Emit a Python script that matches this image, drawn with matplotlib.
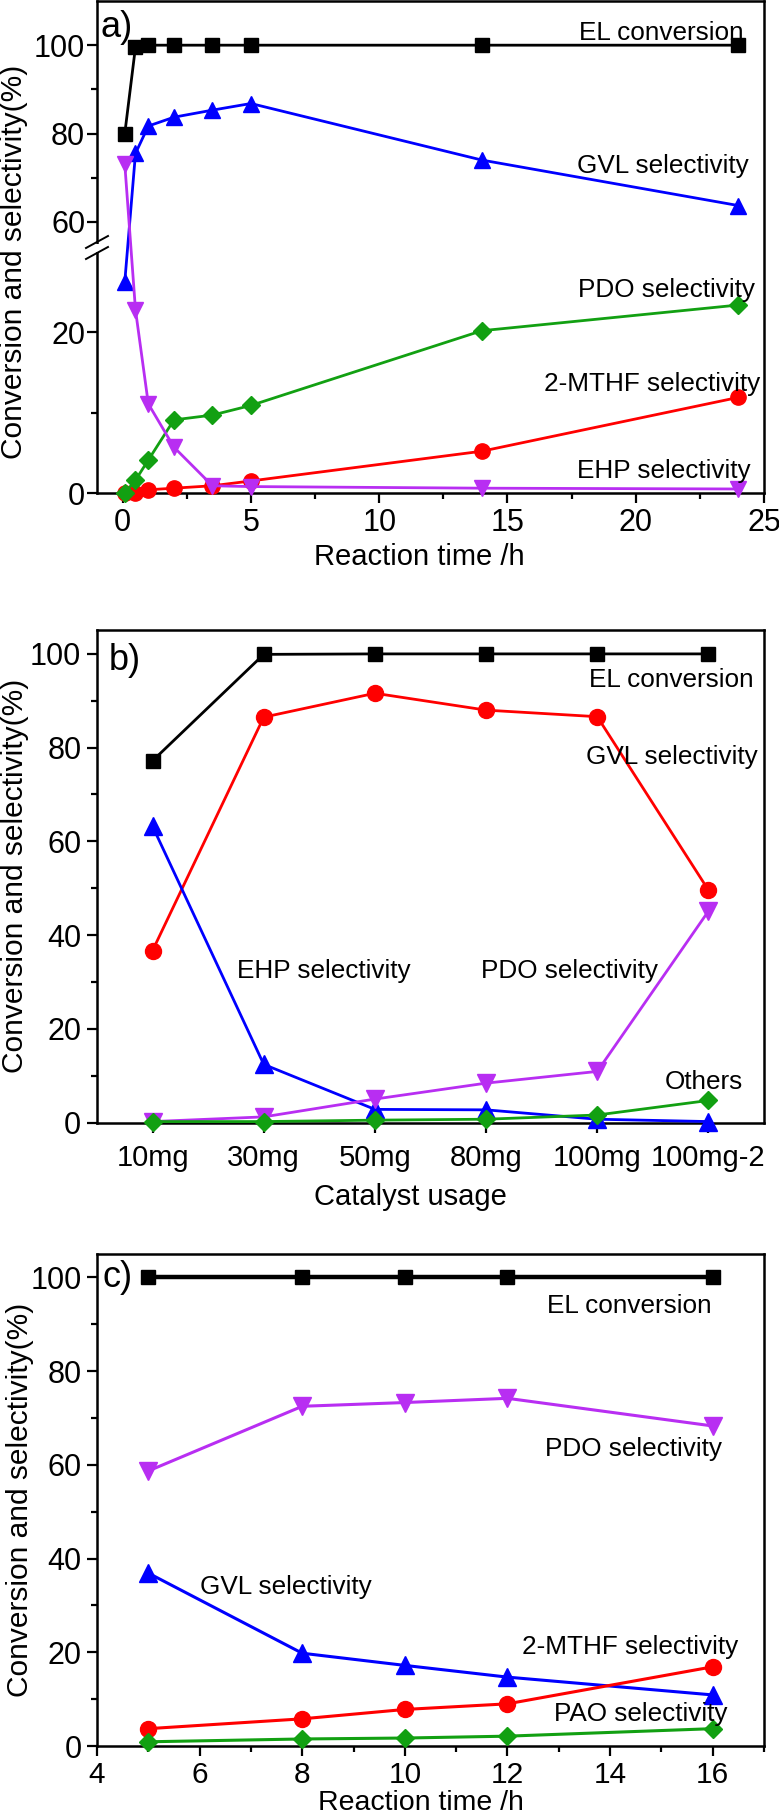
import numpy as np
import matplotlib
matplotlib.use("Agg")
import matplotlib.pyplot as plt
from matplotlib.lines import Line2D
from matplotlib.patches import Rectangle

plt.rcParams['font.family'] = ['Liberation Sans', 'DejaVu Sans']

# ---------------- data ----------------
# panel a: reaction time (h)
time_a = [0.083, 0.5, 1, 2, 3.5, 5, 14, 24]
el_a = [80.0, 99.6, 100, 100, 100, 100, 100, 100]
gvl_a = [26.3, 75.5, 81.7, 83.7, 85.3, 86.8, 74.0, 63.7]
pdo_a = [0.0, 1.6, 4.1, 9.1, 9.7, 10.9, 20.2, 23.4]
mthf_a = [0.0, 0.0, 0.4, 0.6, 0.9, 1.5, 5.2, 11.9]
ehp_a = [73.1, 22.8, 11.1, 5.7, 0.9, 0.8, 0.6, 0.5]

# panel b: catalyst usage
cats_b = ['10mg', '30mg', '50mg', '80mg', '100mg', '100mg-2']
el_b = [77.2, 99.9, 100, 100, 100, 100]
gvl_b = [36.7, 86.5, 91.6, 88.0, 86.6, 49.6]
ehp_b = [63.2, 12.4, 2.8, 2.7, 0.7, 0.2]
pdo_b = [0.2, 1.2, 5.0, 8.4, 10.9, 45.1]
oth_b = [0.2, 0.2, 0.5, 0.7, 1.6, 4.7]

# panel c: reaction time (h)
time_c = [5, 8, 10, 12, 16]
el_c = [100, 100, 100, 100, 100]
pdo_c = [58.7, 72.5, 73.3, 74.2, 68.3]
gvl_c = [36.9, 19.8, 17.2, 14.7, 10.9]
mthf_c = [3.7, 5.8, 7.8, 9.0, 16.9]
pao_c = [0.9, 1.5, 1.7, 2.1, 3.7]

# ---------------- style ----------------
BLACK = '#000000'
RED = '#FF0000'
BLUE = '#0000FF'
GREEN = '#12A012'
PURPLE = '#B82EF2'

W, H = 779, 1817
fig = plt.figure(figsize=(W / 100, H / 100), dpi=100)


def rect(left, right, top, bottom):
    return [left / W, 1 - bottom / H, (right - left) / W, (bottom - top) / H]


def fx(px):
    return px / W


def fy(py):
    return 1 - py / H


def ann(px, py, s, ha='left', size=18.8):
    fig.text(fx(px), fy(py), s, ha=ha, va='baseline', fontsize=size)


def series(ax, x, y, color, marker, ms, lw=2.0):
    ax.plot(x, y, color=color, marker=marker, ms=ms, lw=lw, mec=color,
            mfc=color, clip_on=False, zorder=3)


def style(ax, xpad, ypad):
    for sp in ax.spines.values():
        sp.set_linewidth(1.8)
    ax.tick_params(axis='both', which='both', direction='out', top=False,
                   right=False, width=1.6, labelsize=22)
    ax.tick_params(axis='both', which='major', length=7)
    ax.tick_params(axis='both', which='minor', length=4)
    ax.tick_params(axis='x', pad=xpad)
    ax.tick_params(axis='y', pad=ypad)


# ---------------- panel a (broken y axis) ----------------
axA = fig.add_axes(rect(97, 764, 1, 493))
bp_v = np.array([0.0, 30.0, 55.0, 110.0])
bp_p = np.array([0.0, 241.0, 249.0, 492.0])


def fwd(v):
    v = np.asarray(v, dtype=float)
    out = np.interp(v, bp_v, bp_p)
    out = np.where(v < 0, v * (241.0 / 30.0), out)
    out = np.where(v > 110, 492.0 + (v - 110) * (243.0 / 55.0), out)
    return out


def inv(p):
    p = np.asarray(p, dtype=float)
    out = np.interp(p, bp_p, bp_v)
    out = np.where(p < 0, p / (241.0 / 30.0), out)
    out = np.where(p > 492, 110 + (p - 492.0) / (243.0 / 55.0), out)
    return out


axA.set_yscale('function', functions=(fwd, inv))
axA.set_ylim(0, 110)
axA.set_xlim(-1, 25)
axA.set_yticks([0, 20, 60, 80, 100])
axA.set_yticks([10, 70, 90], minor=True)
axA.set_xticks([0, 5, 10, 15, 20, 25])
axA.set_xticks([2.5, 7.5, 12.5, 17.5, 22.5], minor=True)
style(axA, 4, 1.5)

series(axA, time_a, mthf_a, RED, 'o', 11)
series(axA, time_a, el_a, BLACK, 's', 10)
series(axA, time_a, gvl_a, BLUE, '^', 12)
series(axA, time_a, pdo_a, GREEN, 'D', 9)
series(axA, time_a, ehp_a, PURPLE, 'v', 12)

axA.set_xlabel('Reaction time /h', fontsize=21)
axA.xaxis.label.set_va('baseline')
axA.xaxis.set_label_coords((419 - 97) / 667, (493 - 565) / 492)
axA.set_ylabel('Conversion and selectivity(%)', fontsize=21.5, va='center')
axA.yaxis.set_label_coords((14 - 97) / 667, 0.47)

# break marks on the left spine
fig.add_artist(Rectangle((fx(90), fy(252)), 14 / W, 8 / H, transform=fig.transFigure,
                         facecolor='white', edgecolor='none', zorder=10))
for yc in (242, 253):
    fig.add_artist(Line2D([fx(86), fx(108)], [fy(yc + 6), fy(yc - 6)],
                          transform=fig.transFigure, color='black', lw=1.4, zorder=11))

ann(100, 37, 'a)', size=26)
ann(744, 40, 'EL conversion', ha='right')
ann(749, 173, 'GVL selectivity', ha='right')
ann(755, 297, 'PDO selectivity', ha='right')
ann(760, 391, '2-MTHF selectivity', ha='right')
ann(751, 478, 'EHP selectivity', ha='right')

# ---------------- panel b ----------------
axB = fig.add_axes(rect(97, 764, 630, 1122.5))
xb = np.arange(len(cats_b))
axB.set_xlim(-0.5, len(cats_b) - 0.5)
axB.set_ylim(0, 105.1)
axB.set_xticks(xb)
axB.set_xticklabels(cats_b)
axB.set_yticks([0, 20, 40, 60, 80, 100])
axB.set_yticks([10, 30, 50, 70, 90], minor=True)
style(axB, 8.3, 4.3)
axB.tick_params(axis='x', labelsize=21)

series(axB, xb, el_b, BLACK, 's', 10)
series(axB, xb, gvl_b, RED, 'o', 11.5)
series(axB, xb, ehp_b, BLUE, '^', 13)
series(axB, xb, pdo_b, PURPLE, 'v', 13)
series(axB, xb, oth_b, GREEN, 'D', 9.3)

axB.set_xlabel('Catalyst usage', fontsize=21)
axB.xaxis.label.set_va('baseline')
axB.xaxis.set_label_coords((410 - 97) / 667, (1122.5 - 1205) / 492.5)
axB.set_ylabel('Conversion and selectivity(%)', fontsize=21.5, va='center')
axB.yaxis.set_label_coords((15 - 97) / 667, 0.5)

ann(109, 670, 'b)', size=26)
ann(754, 687, 'EL conversion', ha='right')
ann(758, 764, 'GVL selectivity', ha='right')
ann(237, 978, 'EHP selectivity')
ann(481, 978, 'PDO selectivity')
ann(743, 1089, 'Others', ha='right')

# ---------------- panel c ----------------
C_TOP, C_BOT = 1254, 1746
dc = -4  # vertical shift applied to panel c texts
axC = fig.add_axes(rect(97, 764, C_TOP, C_BOT))
axC.set_xlim(4, 17)
axC.set_ylim(0, 105)
axC.set_xticks([4, 6, 8, 10, 12, 14, 16])
axC.set_xticks([5, 7, 9, 11, 13, 15, 17], minor=True)
axC.set_yticks([0, 20, 40, 60, 80, 100])
axC.set_yticks([10, 30, 50, 70, 90], minor=True)
style(axC, 3.5, 4.2)
axC.tick_params(axis='x', labelsize=21.5)

series(axC, time_c, el_c, BLACK, 's', 10.5, lw=3.2)
series(axC, time_c, pdo_c, PURPLE, 'v', 13, lw=2.2)
series(axC, time_c, gvl_c, BLUE, '^', 13.5, lw=2.2)
series(axC, time_c, mthf_c, RED, 'o', 11.5, lw=2.2)
series(axC, time_c, pao_c, GREEN, 'D', 8.8, lw=2.2)

axC.set_xlabel('Reaction time /h', fontsize=20.5)
axC.xaxis.label.set_va('baseline')
axC.xaxis.set_label_coords((421 - 97) / 667, (C_BOT - 1810) / (C_BOT - C_TOP))
axC.set_ylabel('Conversion and selectivity(%)', fontsize=21.5, va='center')
axC.yaxis.set_label_coords((20 - 97) / 667, 0.5)

ann(102, 1291 + dc, 'c)', size=26)
ann(712, 1317 + dc, 'EL conversion', ha='right')
ann(722, 1460 + dc, 'PDO selectivity', ha='right')
ann(200, 1598 + dc, 'GVL selectivity')
ann(738, 1658 + dc, '2-MTHF selectivity', ha='right')
ann(728, 1725 + dc, 'PAO selectivity', ha='right')

fig.savefig('out.png', dpi=100)
